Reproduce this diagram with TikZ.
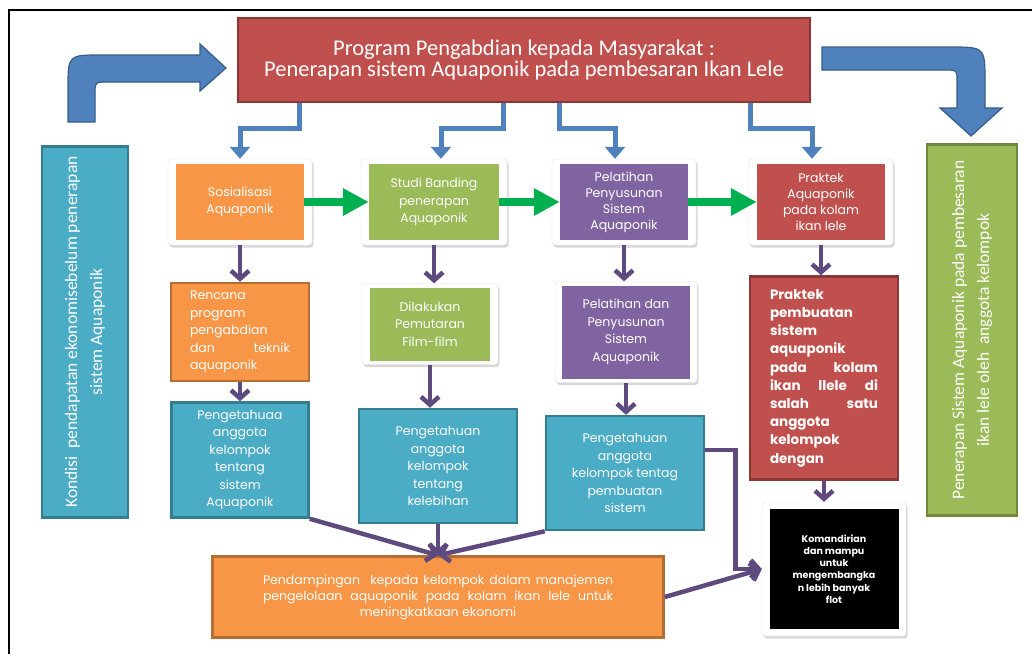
\documentclass[tikz,border=0pt]{standalone}
\usepackage{fontspec}
\setmainfont{Carlito}
\newfontfamily\boxfont{Poppins}
\usetikzlibrary{arrows.meta,shadows}
\definecolor{orangec}{HTML}{F79646}
\definecolor{orangeb}{HTML}{B66D31}
\definecolor{greenc}{HTML}{9BBB59}
\definecolor{greenb}{HTML}{71893F}
\definecolor{purplec}{HTML}{8064A2}
\definecolor{redc}{HTML}{C0504D}
\definecolor{redb}{HTML}{8C3836}
\definecolor{tealc}{HTML}{4BACC6}
\definecolor{tealb}{HTML}{357D91}
\definecolor{bluec}{HTML}{4F81BD}
\definecolor{blueb}{HTML}{385D8A}
\definecolor{arrowc}{HTML}{5F4A7F}
\definecolor{flowc}{HTML}{00B050}
\tikzset{>=stealth,
  titlebox/.style={rectangle, fill=redc, draw=redb, line width=1.5pt, minimum width=572pt, minimum height=84pt, text=white, align=center, font=\fontsize{22.5}{21}\selectfont},
  sidebox/.style={rectangle, rotate=90, line width=2.5pt, minimum width=371pt, minimum height=88pt, text=white, align=center, font=\fontsize{17.5}{25}\selectfont},
  framebox/.style={rectangle, fill=white, draw=black!12, line width=0.4pt, rounded corners=3pt, drop shadow={shadow xshift=1.5pt, shadow yshift=-2.5pt, opacity=0.3}},
  inbox/.style={rectangle, inner sep=1pt, align=center, text=white, font=\boxfont\fontsize{12.5}{17.5}\selectfont},
  edged/.style={line width=2.5pt},
  bigarrow/.style={fill=bluec, draw=blueb, line width=1.2pt},
  link/.style={draw=bluec, line width=5pt, -{Triangle[length=12pt,width=20pt]}},
  flow/.style={draw=arrowc, line width=4.5pt, -{Straight Barb[length=8pt,width=18pt]}},
  lanjut/.style={draw=flowc, line width=8pt, -{Triangle[length=26pt,width=26pt]}}
}

\begin{document}
\begin{tikzpicture}[x=1pt,y=-1pt]
\useasboundingbox[fill=white] (0,0) rectangle (1032,654);
\draw[line width=1.5pt] (9,654) -- (9,10) -- (1032,10);

\node[titlebox] (tit) at (524,60) {Program Pengabdian kepada Masyarakat :\\Penerapan sistem Aquaponik pada pembesaran Ikan Lele};

\filldraw[bigarrow] (68,122) -- (68,88) .. controls (68,55) and (68,55) .. (101,55) -- (200,55) -- (200,44) -- (226,68) -- (200,91) -- (200,82) -- (108,82) .. controls (95,82) and (95,82) .. (95,95) -- (95,122) -- cycle;
\filldraw[bigarrow] (822,47) -- (950,47) .. controls (985,47) and (985,47) .. (985,82) -- (985,108) -- (1002,108) -- (971,136) -- (940,108) -- (957,108) -- (957,82) .. controls (957,70) and (957,70) .. (945,70) -- (822,70) -- cycle;

\node[sidebox, fill=tealc, draw=tealb, minimum height=86pt] (kon) at (85,332) {Kondisi\ \ pendapatan ekonomisebelum penerapan\\sistem Aquaponik};
\node[sidebox, fill=greenc, draw=greenb, minimum height=90pt] (pen) at (972,330) {Penerapan Sistem Aquaponik pada pembesaran\\ikan lele oleh\ \ anggota kelompok};

\node[framebox, minimum width=144pt, minimum height=86pt] (sosf) at (240,202) {};
\node[inbox, fill=orangec, minimum width=128pt, minimum height=76pt] (sos) at (sosf) {Sosialisasi\\Aquaponik};
\node[framebox, minimum width=146pt, minimum height=86pt] (stuf) at (434,202) {};
\node[inbox, fill=greenc, minimum width=130pt, minimum height=76pt] (stu) at (stuf) {Studi Banding\\penerapan\\Aquaponik};
\node[framebox, minimum width=144pt, minimum height=86pt] (pelf) at (624,202) {};
\node[inbox, fill=purplec, minimum width=128pt, minimum height=76pt, font=\boxfont\fontsize{12.5}{16}\selectfont] (pel) at (pelf) {Pelatihan\\Penyusunan\\Sistem\\Aquaponik};
\node[framebox, minimum width=144pt, minimum height=86pt] (prkf) at (821,202) {};
\node[inbox, fill=redc, minimum width=128pt, minimum height=76pt, font=\boxfont\fontsize{12.5}{16}\selectfont] (prk) at (prkf) {Praktek\\Aquaponik\\pada kolam\\ikan lele};

\node[inbox, edged, fill=orangec, draw=orangeb, minimum width=138pt, minimum height=98pt, text width=100pt, align=left] (ren) at (240,332) {Rencana\\program\\pengabdian\\dan \hfill teknik\\aquaponik};
\node[framebox, minimum width=136pt, minimum height=81pt] (dilf) at (430,324) {};
\node[inbox, fill=greenc, minimum width=120pt, minimum height=73pt] (dil) at (dilf) {Dilakukan\\Pemutaran\\Film-film};
\node[framebox, minimum width=142pt, minimum height=101pt] (pldf) at (626,332) {};
\node[inbox, fill=purplec, minimum width=128pt, minimum height=93pt] (pld) at (pldf) {Pelatihan dan\\Penyusunan\\Sistem\\Aquaponik};
\node[inbox, edged, fill=redc, draw=redb, minimum width=148pt, minimum height=203pt, text width=108pt, align=left, font=\boxfont\bfseries\fontsize{13.5}{18.2}\selectfont] (prt) at (824,378) {Praktek\\pembuatan\\sistem\\aquaponik\\pada \hfill kolam\\ikan \hfill llele \hfill di\\salah \hfill satu\\anggota\\kelompok\\dengan};

\node[inbox, edged, fill=tealc, draw=tealb, minimum width=137pt, minimum height=115pt] (p1) at (240,460) {Pengetahuaa\\anggota\\kelompok\\tentang\\sistem\\Aquaponik};
\node[inbox, edged, fill=tealc, draw=tealb, minimum width=158pt, minimum height=114pt] (p2) at (438,466) {Pengetahuan\\anggota\\kelompok\\tentang\\kelebihan};
\node[inbox, edged, fill=tealc, draw=tealb, minimum width=158pt, minimum height=114pt] (p3) at (625,473) {Pengetahuan\\anggota\\kelompok tentag\\pembuatan\\sistem};
\node[framebox, minimum width=144pt, minimum height=134pt] (blkf) at (834,569) {};
\node[inbox, fill=black, minimum width=129pt, minimum height=120pt, font=\boxfont\bfseries\fontsize{9.5}{12.3}\selectfont] (blk) at (blkf) {Komandirian\\dan mampu\\untuk\\mengembangka\\n lebih banyak\\flot};
\node[inbox, edged, fill=orangec, draw=orangeb, minimum width=451pt, minimum height=81pt, font=\boxfont\fontsize{12.5}{16}\selectfont] (bot) at (438,597) {\makebox[350pt][s]{Pendampingan\ \ kepada kelompok dalam manajemen}\\\makebox[350pt][s]{pengelolaan aquaponik pada kolam ikan lele untuk}\\meningkatkaan ekonomi};

\foreach \s/\e/\t in {-225/0/sosf, -21/7/stuf, 35/-9/pelf, 226/-9/prkf}
  \draw[link] ([xshift=\s pt]tit.south) -- ++(0,26) -| ([xshift=\e pt]\t.north);
\foreach \a/\b in {sos/stu, stu/pel, pel/prk}
  \draw[lanjut] (\a.east) -- (\b.west);
\foreach \a/\b in {sosf/ren, stuf/dilf, pldf/p3, pelf/pldf, prkf/prt, ren/p1, dilf/p2, prt/blkf}
  \draw[flow] (\a.south) -- (\a.south |- \b.north);
\draw[flow] (p1.south east) -- (bot.north);
\draw[flow] (p2.south) -- (p2.south |- bot.north);
\draw[flow] (p3.south west) -- (bot.north);
\draw[flow] ([yshift=23pt]p3.east) -- ++(30,0) |- (blkf.west);
\draw[flow] (bot.east) -- (blkf.west);
\end{tikzpicture}
\end{document}
